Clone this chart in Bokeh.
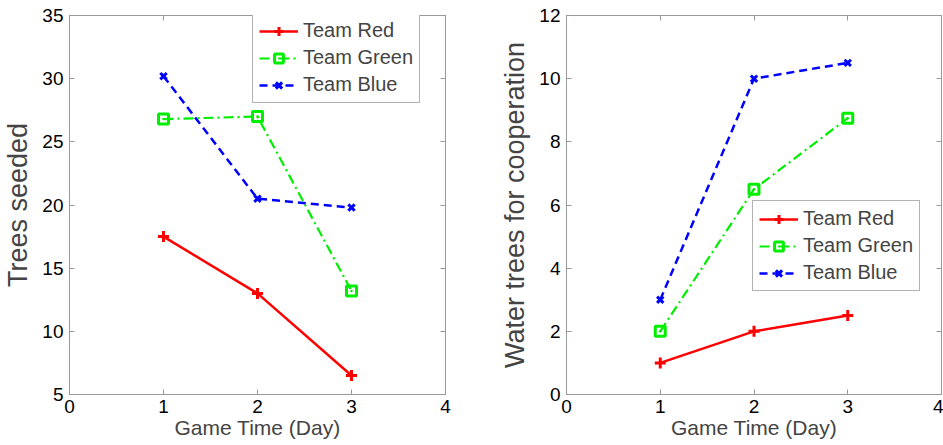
from bokeh.plotting import figure
from bokeh.models import LinearAxis, FixedTicker, Legend, LegendItem, Range1d
from bokeh.layouts import row
from bokeh.embed import file_html
from bokeh.resources import INLINE

days = [1, 2, 3]
team_names = ["Team Red", "Team Green", "Team Blue"]
seeded_red = [17.5, 13.0, 6.5]
seeded_green = [26.8, 27.0, 13.2]
seeded_blue = [30.2, 20.5, 19.8]
water_red = [1.0, 2.0, 2.5]
water_green = [2.0, 6.5, 8.75]
water_blue = [3.0, 10.0, 10.5]
x_ticks = [0, 1, 2, 3, 4]
seeded_ticks = [5, 10, 15, 20, 25, 30, 35]
water_ticks = [0, 2, 4, 6, 8, 10, 12]

FONT = "Liberation Sans"
FRAME = "#999999"
LEGEND_BORDER = "#666666"

styles = [
    dict(color="#ff0000", dash="solid", marker="cross", size=11, lw=2.5),
    dict(color="#00ee00", dash="10 4 2 4", marker="square_dot", size=10, lw=2.2),
    dict(color="#0000ff", dash="8 5", marker="x", size=9, lw=2.5),
]


def style_axis(ax, ticks, show_labels=True):
    ax.ticker = FixedTicker(ticks=ticks)
    ax.minor_tick_line_color = None
    ax.major_tick_in = 5
    ax.major_tick_out = 0
    ax.axis_line_color = FRAME
    ax.major_tick_line_color = FRAME
    ax.major_label_text_font = FONT
    ax.major_label_text_color = "black"
    ax.major_label_text_font_size = "19px"
    if show_labels:
        ax.major_label_standoff = 5
    else:
        ax.major_label_overrides = {t: "" for t in ticks}
        ax.major_label_standoff = 0


def make_panel(width, bl, br, ylabel, yr, yticks, series, loc):
    p = figure(width=width, height=445, output_backend="svg", toolbar_location=None,
               x_range=Range1d(0, 4), y_range=Range1d(*yr),
               min_border_left=bl, min_border_right=br, min_border_top=15,
               min_border_bottom=51)
    p.grid.visible = False
    p.outline_line_color = FRAME
    p.background_fill_color = "white"
    p.border_fill_color = "white"
    style_axis(p.xaxis[0], x_ticks)
    style_axis(p.yaxis[0], yticks)
    p.yaxis[0].major_label_standoff = 6
    p.xaxis[0].axis_label = "Game Time (Day)"
    p.yaxis[0].axis_label = ylabel
    for ax, size, stand in ((p.xaxis[0], "21px", 0), (p.yaxis[0], "27px", 6)):
        ax.axis_label_text_font = FONT
        ax.axis_label_text_font_size = size
        ax.axis_label_text_font_style = "normal"
        ax.axis_label_standoff = stand
    top = LinearAxis()
    style_axis(top, x_ticks, False)
    p.add_layout(top, "above")
    right = LinearAxis()
    style_axis(right, yticks, False)
    p.add_layout(right, "right")

    items = []
    for name, vals, st in zip(team_names, series, styles):
        r1 = p.line(days, vals, line_color=st["color"], line_width=st["lw"], line_dash=st["dash"])
        r2 = p.scatter(days, vals, marker=st["marker"], size=st["size"], line_color=st["color"],
                       fill_color=None, line_width=3)
        items.append(LegendItem(label=name, renderers=[r1, r2]))
    leg = Legend(items=items, location=loc, label_text_font=FONT, label_text_font_size="20px",
                 glyph_width=39, glyph_height=22, label_height=22, spacing=4, padding=6,
                 label_standoff=5, border_line_color=LEGEND_BORDER, border_line_width=1,
                 background_fill_color="white", background_fill_alpha=1, margin=0)
    p.add_layout(leg, "center")
    return p


p1 = make_panel(470, 69, 25, "Trees seeded", (5, 35), seeded_ticks,
                [seeded_red, seeded_green, seeded_blue], (183, 291))
p2 = make_panel(473, 96, 2, "Water trees for cooperation", (0, 12), water_ticks,
                [water_red, water_green, water_blue], (186, 103))

layout = row(p1, p2)
open("out.html", "w").write(file_html(layout, INLINE))
